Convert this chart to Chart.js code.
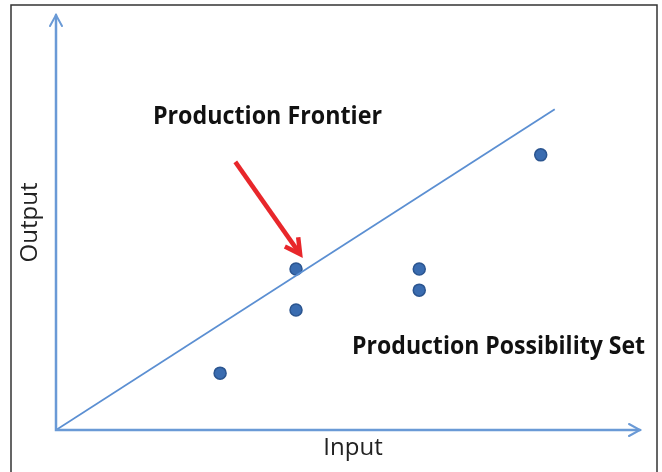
<!DOCTYPE html>
<html>
<head>
<meta charset="utf-8">
<script src="https://cdn.jsdelivr.net/npm/chart.js@4"></script>
<style>
  html, body { margin:0; padding:0; background:#fff; }
  #wrap { width:662px; height:472px; position:relative; }
</style>
</head>
<body>
<div id="wrap"><canvas id="chart"></canvas></div>
<script>
// Data (arbitrary units, axes run 0..10)
const pointsX = [2.81, 4.11, 4.11, 6.22, 6.22, 8.30];
const pointsY = [1.37, 3.88, 2.89, 3.88, 3.37, 6.63];
const frontierX = [0, 8.54];
const frontierY = [0, 7.73];
const arrowX = [3.07, 4.18];
const arrowY = [6.46, 4.24];
const labels = ['Production Frontier', 'Production Possibility Set'];
const labelX = [1.66, 5.07];
const labelY = [7.37, 1.83];
const axisTitles = ['Input', 'Output'];

const blue = '#6a9ad6';

// axes with arrow heads, red arrow, text labels, frame
const drawExtras = {
  id: 'drawExtras',
  afterDatasetsDraw(chart){
    const c = chart.ctx;
    const a = chart.chartArea;
    const xs = chart.scales.x, ys = chart.scales.y;
    c.save();

    // axes
    c.strokeStyle = blue;
    c.lineWidth = 2.5;
    c.lineCap = 'round';
    c.beginPath();
    c.moveTo(a.left, a.top);
    c.lineTo(a.left, a.bottom);
    c.lineTo(a.right, a.bottom);
    c.stroke();
    c.lineWidth = 2;
    c.beginPath();
    c.moveTo(a.left - 6, a.top + 11);
    c.lineTo(a.left, a.top);
    c.lineTo(a.left + 6, a.top + 11);
    c.moveTo(a.right - 11, a.bottom - 6);
    c.lineTo(a.right, a.bottom);
    c.lineTo(a.right - 11, a.bottom + 6);
    c.stroke();

    // red arrow
    const x1 = xs.getPixelForValue(arrowX[0]), y1 = ys.getPixelForValue(arrowY[0]);
    const x2 = xs.getPixelForValue(arrowX[1]), y2 = ys.getPixelForValue(arrowY[1]);
    const ang = Math.atan2(y2 - y1, x2 - x1);
    c.strokeStyle = '#e8272b';
    c.lineWidth = 4.5;
    c.lineCap = 'butt';
    c.beginPath();
    c.moveTo(x1, y1);
    c.lineTo(x2 - 3*Math.cos(ang), y2 - 3*Math.sin(ang));
    c.stroke();
    c.lineJoin = 'miter';
    c.beginPath();
    const hl = 17;
    c.moveTo(x2 - hl*Math.cos(ang - 0.5), y2 - hl*Math.sin(ang - 0.5));
    c.lineTo(x2, y2);
    c.lineTo(x2 - hl*Math.cos(ang + 0.5), y2 - hl*Math.sin(ang + 0.5));
    c.stroke();

    // text labels
    c.fillStyle = '#111';
    c.textBaseline = 'alphabetic';
    c.textAlign = 'left';
    c.font = 'bold 25px "Open Sans"';
    c.fillText(labels[0], xs.getPixelForValue(labelX[0]), ys.getPixelForValue(labelY[0]), 229);
    c.fillText(labels[1], xs.getPixelForValue(labelX[1]), ys.getPixelForValue(labelY[1]), 293);

    // axis titles
    c.font = '24px "Open Sans"';
    c.fillStyle = '#222';
    c.textAlign = 'center';
    c.fillText(axisTitles[0], (a.left + a.right) / 2 + 5, a.bottom + 25, 60);
    c.save();
    c.translate(a.left - 19, (a.top + a.bottom) / 2);
    c.rotate(-Math.PI/2);
    c.fillText(axisTitles[1], 0, 0, 86);
    c.restore();

    // frame
    c.strokeStyle = '#333';
    c.lineWidth = 1.5;
    c.strokeRect(11, 5, 646, 480);
    c.restore();
  }
};

new Chart(document.getElementById('chart'), {
  type: 'scatter',
  data: {
    datasets: [
      {
        label: 'Frontier',
        data: frontierX.map((x, i) => ({x, y: frontierY[i]})),
        showLine: true,
        borderColor: '#5b8fd2',
        borderWidth: 1.8,
        pointRadius: 0
      },
      {
        label: 'Firms',
        data: pointsX.map((x, i) => ({x, y: pointsY[i]})),
        backgroundColor: '#3a6cb0',
        borderColor: '#2b5590',
        borderWidth: 1.5,
        pointRadius: 6
      }
    ]
  },
  options: {
    responsive: true,
    maintainAspectRatio: false,
    animation: false,
    layout: { padding: { left: 56, right: 22, top: 15, bottom: 42 } },
    plugins: { legend: { display: false }, tooltip: { enabled: false } },
    scales: {
      x: { type: 'linear', min: 0, max: 10, display: false },
      y: { type: 'linear', min: 0, max: 10, display: false }
    }
  },
  plugins: [drawExtras]
});
</script>
</body>
</html>
